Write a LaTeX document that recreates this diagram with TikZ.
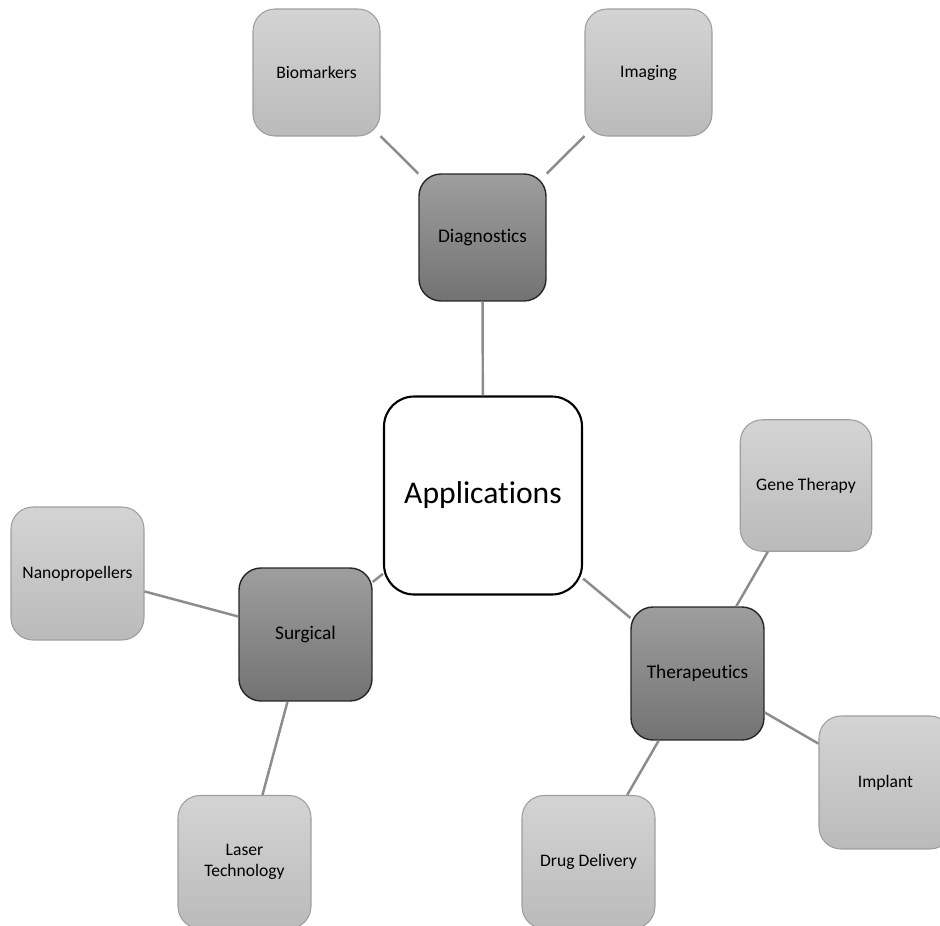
\documentclass[tikz,border=0pt]{standalone}
\usepackage{fontspec}
\setmainfont{Carlito}[Ligatures=NoCommon]
\usepackage{tikz}

\tikzset{
    leafbox/.style={draw=black!38, line width=0.6pt, rounded corners=0.44cm,
        top color=black!17, bottom color=black!27, minimum size=2.66cm,
        font=\fontsize{10}{12}\selectfont, align=center, inner sep=0pt},
    branchbox/.style={draw=black!85, line width=0.8pt, rounded corners=0.44cm,
        top color=black!38, bottom color=black!55, minimum size=2.66cm,
        font=\fontsize{11}{13}\selectfont, inner sep=0pt},
    rootbox/.style={draw=black, line width=1.2pt, rounded corners=0.6cm,
        fill=white, minimum size=3.96cm, font=\fontsize{18}{22}\selectfont, inner sep=0pt},
    link/.style={draw=black!45, line width=1.4pt}
}

\begin{document}
\begin{tikzpicture}[x=0.02cm, y=-0.02cm]

    \useasboundingbox (0,0) rectangle (940,926);
    \clip (0,0) rectangle (940,926);

    % centre
    \node[rootbox] (apps) at (483,495.5) {Applications};

    % branches
    \node[branchbox, minimum size=2.54cm] (diag) at (482.5,237.5) {Diagnostics};
    \node[branchbox] (surg) at (305.5,634.5) {Surgical};
    \node[branchbox] (ther) at (697.5,673.5) {Therapeutics};

    % leaves
    \node[leafbox, minimum size=2.54cm] (bio) at (316.5,72.5) {Biomarkers};
    \node[leafbox, minimum size=2.54cm] (img) at (648.5,72.5) {Imaging};
    \node[leafbox, minimum size=2.63cm] (gene) at (806,485.5) {Gene Therapy};
    \node[leafbox] (nano) at (77.5,573.5) {Nanopropellers};
    \node[leafbox] (laser) at (244.5,862) {Laser\\Technology};
    \node[leafbox] (drug) at (588.5,862) {Drug Delivery};
    \node[leafbox] (impl) at (885.5,782.5) {Implant};

    % connectors
    \path[link] (apps) -- (diag);
    \path[link] (apps) -- (surg);
    \path[link] (apps) -- (ther);
    \path[link] (diag) -- (bio);
    \path[link] (diag) -- (img);
    \path[link] (surg) -- (nano);
    \path[link] (surg) -- (laser);
    \path[link] (ther) -- (gene);
    \path[link] (ther) -- (impl);
    \path[link] (ther) -- (drug);

\end{tikzpicture}
\end{document}
